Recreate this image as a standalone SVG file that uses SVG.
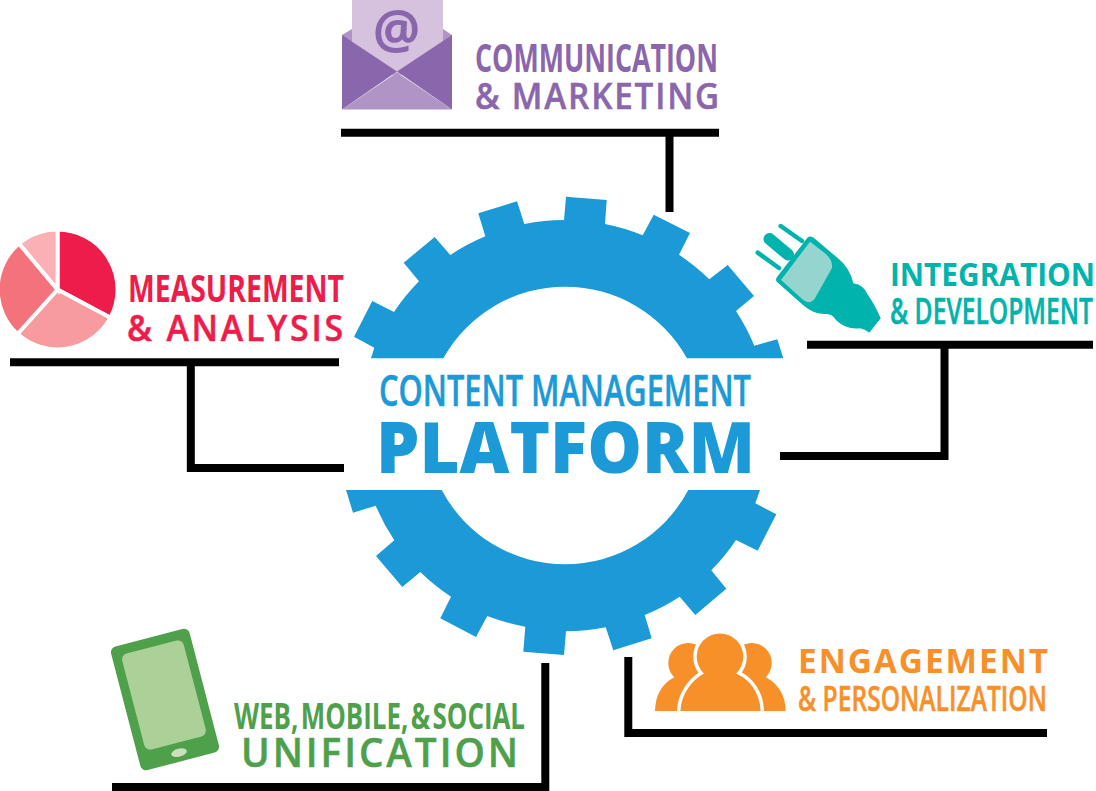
<svg xmlns="http://www.w3.org/2000/svg" width="1096" height="791" viewBox="0 0 1096 791">
<style>
text{font-family:"Open Sans","Noto Sans","Liberation Sans",sans-serif;font-weight:700}
text.sb{font-weight:600;stroke-width:.5}
.ln{fill:none;stroke:#000;stroke-width:8;stroke-linejoin:miter}
.pu{fill:#8a66ac;stroke:#8a66ac;stroke-width:0}.re{fill:#ee1c4a;stroke:#ee1c4a;stroke-width:0}.te{fill:#00b3ac;stroke:#00b3ac;stroke-width:0}.gr{fill:#4ea04a;stroke:#4ea04a;stroke-width:0}.or{fill:#f8902a;stroke:#f8902a;stroke-width:0}.bl{fill:#1b9ad7;stroke:#1b9ad7;stroke-width:0}
.sl{stroke:#fff;stroke-width:4}
</style>
<rect width="1096" height="791" fill="#fff"/>
<g id="connectors">
<polyline class="ln" points="341,132.7 719,132.7"/><polyline class="ln" points="669.5,132.7 669.5,212"/>
<polyline class="ln" points="10,362.3 339,362.3"/><polyline class="ln" points="190.8,362.3 190.8,468 344,468"/>
<polyline class="ln" points="807,344.7 1093,344.7"/><polyline class="ln" points="944.5,344.7 944.5,456 780,456"/>
<polyline class="ln" points="112,787 545.3,787 545.3,663"/>
<polyline class="ln" points="628.3,657 628.3,733 1047,733"/>
</g>
<g id="platform">
<path class="bl" d="M371,358.3L374.3,347.7L354,336.7L372.3,301L394,312A205 205 0 0 1 419,281.3L403.7,262.7L434.7,237L450.3,255A205 205 0 0 1 485.3,236.3L478.3,213.3L517,201.3L524.3,224A205 205 0 0 1 564,220L566,196.7L606.7,200L605,224A205 205 0 0 1 642.7,235.3L653.7,214.7L690,233L679,254.7A205 205 0 0 1 709.3,279.3L727.7,265L754,296L736,311A205 205 0 0 1 754.3,345.7L777.3,339.3L783.3,358.3L687,358.3A139.5 139.5 0 0 0 443.3,358.3Z"/>
<path class="bl" d="M346,490L353,512.7L375.7,505.7A205 205 0 0 0 394.3,540.3L376,556L402.3,587L420.3,572A205 205 0 0 0 451,596.7L440.3,618.3L476,637L487.3,616A205 205 0 0 0 525.3,626.7L523.3,651.7L564,655L566,631.3A205 205 0 0 0 605.7,627.3L613.3,650.3L651.7,638.3L644.7,615A205 205 0 0 0 679.7,596.7L695.3,615L726.3,588.7L711.3,570.3A205 205 0 0 0 736,540L757.7,550.7L776.3,514.3L755.3,503.3L760,490L688.3,490A139.5 139.5 0 0 1 441.7,490Z"/>
<text class="bl sb" x="379" y="405.7" font-size="43" textLength="372" lengthAdjust="spacingAndGlyphs">CONTENT MANAGEMENT</text>
<text class="bl" x="376" y="472.5" font-size="71" style="font-weight:800" textLength="379" lengthAdjust="spacingAndGlyphs">PLATFORM</text>
</g>
<g id="communication">
<path d="M342,35L352,29H443L452,35V60H342Z" fill="#b094c5"/>
<rect x="352" y="0" width="91" height="75" fill="#d6c2de"/>
<path class="pu" d="M342,35L397,71.5L342,109.5Z"/><path class="pu" d="M452,35L397,71.5L452,109.5Z"/>
<path d="M342,109.5L397,72.5L452,109.5Z" fill="#b094c5"/>
<text class="pu" x="396.5" y="49" font-size="53" text-anchor="middle">@</text>
<text class="pu" x="475" y="71.7" font-size="40" textLength="243" lengthAdjust="spacingAndGlyphs">COMMUNICATION</text>
<text class="pu sb" x="475" y="109" font-size="36" letter-spacing="2" textLength="246" lengthAdjust="spacingAndGlyphs">&amp; MARKETING</text>
</g>
<g id="measurement">
<path fill="#ee1c4a" class="sl" d="M57.5,289.5V229.5A60 60 0 0 1 110.5,317.7Z"/>
<path class="sl" fill="#f79b9f" d="M57.5,289.5L110.5,317.7A60 60 0 0 1 17.5,334Z"/>
<path class="sl" fill="#f4727b" d="M57.5,289.5L17.5,334A60 60 0 0 1 19,243.5Z"/>
<path class="sl" fill="#fab0b4" d="M57.5,289.5L19,243.5A60 60 0 0 1 57.5,229.5Z"/>
<text class="re" x="128" y="301.7" font-size="37" textLength="216" lengthAdjust="spacingAndGlyphs">MEASUREMENT</text>
<text class="re sb" x="127" y="340.7" font-size="36" letter-spacing="3" textLength="219" lengthAdjust="spacingAndGlyphs">&amp; ANALYSIS</text>
</g>
<g id="integration">
<path class="te" d="M808,237Q811,235.5 814,238L838,258.3Q850,268 853.3,283.3Q864,285 868,295Q875,305 880.7,318.3L869.3,332.7Q865,329 860,328.3Q846,330 836,320Q832,313 825,314Q813,314 803,305L777,282Q775,280 777,277Z"/>
<path fill="#96d5cf" d="M810,241.7L825,253.3Q833,260 832,268L815,298.3Q810,305 803.3,300L781,280Z"/>
<path d="M769.5,239L788,254.5" fill="none" stroke="#00b3ac" stroke-width="12" stroke-linecap="round"/>
<path d="M780.7,226L802,241M757.7,252.7L779,268" fill="none" stroke="#00b3ac" stroke-width="4.5" stroke-linecap="round"/>
<text class="te" x="890" y="286" font-size="32" textLength="205" lengthAdjust="spacingAndGlyphs">INTEGRATION</text>
<text class="te sb" x="890" y="324" font-size="36" textLength="203" lengthAdjust="spacingAndGlyphs">&amp; DEVELOPMENT</text>
</g>
<g id="engagement">
<circle class="or" cx="688.3" cy="663" r="20"/><circle class="or" cx="751.7" cy="663" r="20"/>
<path class="or" d="M655,711C655,695 663,683 673,678L695,668L710,711Z"/>
<path class="or" d="M785.7,711C785.7,695 777,683 767,678L745,668L730,711Z"/>
<g fill="#fff" stroke="#fff" stroke-width="7"><circle cx="720" cy="656.7" r="23.3"/><path d="M680.5,711C681,693 693,680 703,674H737C750,680 760,693 760.5,711Z"/></g>
<rect x="650" y="711" width="140" height="8" fill="#fff"/>
<circle class="or" cx="720" cy="656.7" r="23.3"/>
<path class="or" d="M680.5,711C681,693 693,680 703,674H737C750,680 760,693 760.5,711Z"/>
<text class="or" x="798" y="673" font-size="34" letter-spacing="2" textLength="252" lengthAdjust="spacingAndGlyphs">ENGAGEMENT</text>
<text class="or sb" x="798" y="711" font-size="34" textLength="249" lengthAdjust="spacingAndGlyphs">&amp; PERSONALIZATION</text>
</g>
<g id="web-mobile-social">
<rect class="gr" x="124.4" y="635.6" width="81.2" height="127.8" rx="6" transform="rotate(-14.6 165 699.5)"/>
<rect x="132.2" y="645.5" width="63.6" height="99" rx="6" fill="#abd098" transform="rotate(-14.6 164 695)"/>
<ellipse cx="179" cy="752.7" rx="8" ry="4" fill="#cbe0bc" transform="rotate(-14.6 179 752.7)"/>
<text class="gr" x="234" y="729" font-size="36" word-spacing="-6" textLength="291" lengthAdjust="spacingAndGlyphs">WEB, MOBILE, &amp; SOCIAL</text>
<text class="gr sb" x="241" y="766.7" font-size="39" letter-spacing="3" textLength="280" lengthAdjust="spacingAndGlyphs">UNIFICATION</text>
</g>
</svg>
